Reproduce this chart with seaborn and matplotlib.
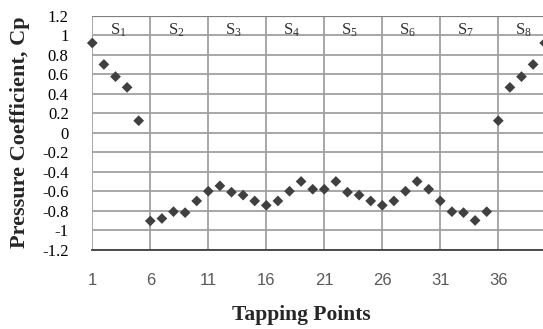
import matplotlib
matplotlib.use("Agg")
import matplotlib.pyplot as plt
import seaborn as sns
import pandas as pd

# Tapping point numbers and measured pressure coefficients
tapping_points = list(range(1, 41))
cp_values = [
    0.92, 0.70, 0.575, 0.465, 0.123,
    -0.905, -0.88, -0.81, -0.82, -0.70,
    -0.60, -0.545, -0.61, -0.64, -0.70,
    -0.745, -0.70, -0.60, -0.50, -0.58,
    -0.58, -0.50, -0.61, -0.64, -0.70,
    -0.745, -0.70, -0.60, -0.50, -0.58,
    -0.70, -0.81, -0.82, -0.90, -0.81,
    0.123, 0.465, 0.575, 0.70, 0.92,
]
x_ticks = [1, 6, 11, 16, 21, 26, 31, 36]
y_ticks = [1.2, 1, 0.8, 0.6, 0.4, 0.2, 0, -0.2, -0.4, -0.6, -0.8, -1, -1.2]
y_tick_labels = ["1.2", "1", "0.8", "0.6", "0.4", "0.2", "0", "-0.2",
                 "-0.4", "-0.6", "-0.8", "-1", "-1.2"]
segment_labels = ["1", "2", "3", "4", "5", "6", "7", "8"]

df = pd.DataFrame({"point": tapping_points, "cp": cp_values})

sns.set_theme(style="white")
plt.rcParams["font.family"] = ["Liberation Serif", "DejaVu Serif"]

fig = plt.figure(figsize=(5.43, 3.29), dpi=100)
W, H = 543, 329
left_px, right_px, top_px, bottom_px = 92.3, 544.7, 15.7, 249.7
ax = fig.add_axes([left_px / W, 1 - bottom_px / H,
                   (right_px - left_px) / W, (bottom_px - top_px) / H])

grid_c = "#a0a0a0"
for yv in y_ticks:
    ax.axhline(yv, color=grid_c, lw=1.3, zorder=0)
for xv in x_ticks:
    ax.axvline(xv, color=grid_c, lw=1.3, zorder=0)
ax.axhline(1.2, color="#808080", lw=1.6, zorder=1)

sns.scatterplot(data=df, x="point", y="cp", marker="D", s=30,
                color="#404040", edgecolor="none", ax=ax, zorder=3,
                clip_on=False)

ax.set_xlim(1, 40)
ax.set_ylim(-1.2, 1.2)
for s in ["top", "right", "left"]:
    ax.spines[s].set_visible(False)
ax.spines["bottom"].set_color("#404040")
ax.spines["bottom"].set_linewidth(1.3)

ax.set_yticks(y_ticks)
ax.set_yticklabels(y_tick_labels, fontsize=12, color="black")
ax.set_xticks(x_ticks)
ax.set_xticklabels([str(v) for v in x_ticks], fontsize=12,
                   family="Liberation Sans", color="#595959")
ax.tick_params(axis="x", length=0, pad=17)
ax.tick_params(axis="y", length=0, pad=17)

# Segment labels sitting on the Cp = 1 line
for i, lab in enumerate(segment_labels):
    ax.text(3.2 + 5 * i, 1.005, r"$\mathregular{S_{%s}}$" % lab,
            ha="center", va="baseline", fontsize=12, color="#303030")

ax.set_xlabel("")
ax.set_ylabel("")
fig.text(20 / W, 1 - 132 / H, "Pressure Coefficient, Cp", rotation=90,
         ha="center", va="center", fontsize=16, fontweight="bold")
fig.text(301 / W, 1 - 315 / H, "Tapping Points", ha="center", va="center",
         fontsize=15.5, fontweight="bold")

fig.savefig("out.png", dpi=100)
